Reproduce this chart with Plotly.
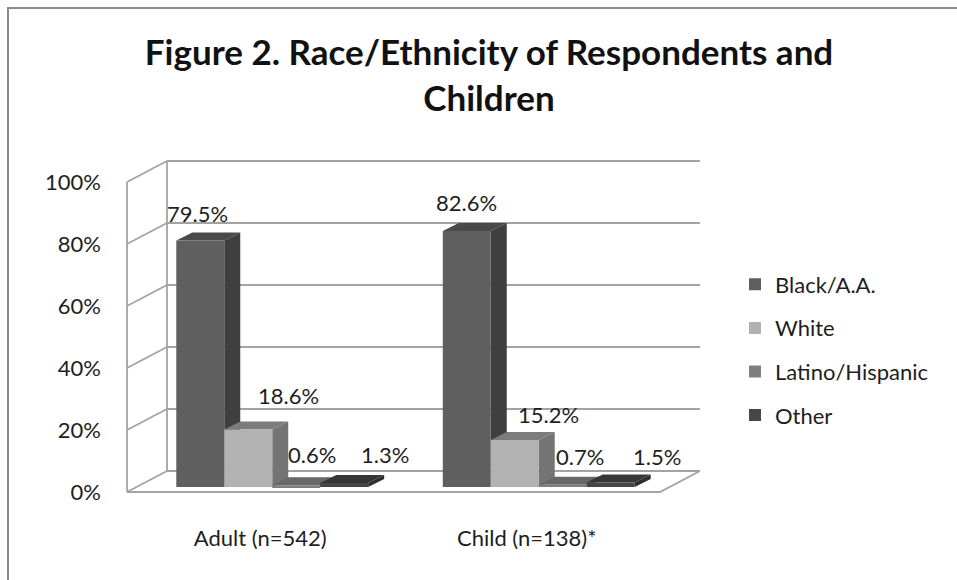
import plotly.graph_objects as go

# ---------------- data ----------------
categories = ["Adult (n=542)", "Child (n=138)*"]
series_names = ["Black/A.A.", "White", "Latino/Hispanic", "Other"]
black_vals = [79.5, 82.6]
white_vals = [18.6, 15.2]
latino_vals = [0.6, 0.7]
other_vals = [1.3, 1.5]
y_tick_vals = [0, 20, 40, 60, 80, 100]
y_tick_text = ["0%", "20%", "40%", "60%", "80%", "100%"]

series_vals = [black_vals, white_vals, latino_vals, other_vals]

# ---------------- style ----------------
front_cols = ["#5f5f5f", "#b2b2b2", "#7e7e7e", "#464646"]
side_cols = ["#3f3f3f", "#747474", "#5c5c5c", "#2e2e2e"]
top_cols = ["#4a4a4a", "#7c7c7c", "#686868", "#363636"]
FONT = "Lato"
TXT = "#1e1e1e"
GRID = "#a3a3a3"

# oblique projection parameters (data units)
DX, DY = 0.150, 6.77       # full depth of floor / walls
BX, BY = 0.045, 1.6        # bar front plane offset
W = 0.180                  # bar width
BDX, BDY = 0.060, 2.58     # bar depth
# label nudges in px (per group, per series)
lab_dx = [[-3, 40, 16, 41], [0, 34, 17, 46]]
lab_dy = [[27, 34, 31, 29], [28, 25, 28, 26]]

L, R, T, B = 120, 245, 150, 83
PW, PH = 957 - L - R, 580 - T - B
x_range = [(L - 127) / 266.5, (957 - R - 127) / 266.5]
y_range = [-(580 - B - 492) / 3.1, (492 - T) / 3.1]

fig = go.Figure()

# ---------- walls / floor / grid (base axes) ----------
ncat = len(categories)
gx, gy = [], []
ymax = y_tick_vals[-1]
for t in y_tick_vals:
    gx += [DX, ncat + DX, None]
    gy += [t + DY, t + DY, None]
    gx += [0, DX, None]
    gy += [t, t + DY, None]
gx += [0, 0, None, DX, DX, None]
gy += [0, ymax, None, DY, ymax + DY, None]
gx += [0, ncat, ncat + DX, None]
gy += [0, 0, DY, None]
fig.add_trace(go.Scatter(x=gx, y=gy, mode="lines", line=dict(color=GRID, width=1.8),
                         hoverinfo="skip", showlegend=False, xaxis="x", yaxis="y"))


def bar_x(gi, j):
    return gi + 0.5 + BX + (j - 1.5) * W


# ---------- side and top faces (base axes) ----------
for j, vals in enumerate(series_vals):
    sx, sy, tx, ty = [], [], [], []
    for gi, v in enumerate(vals):
        xl = bar_x(gi, j) - W / 2
        xr = bar_x(gi, j) + W / 2
        y0, y1 = BY, BY + v
        sx += [xr, xr + BDX, xr + BDX, xr, xr, None]
        sy += [y0, y0 + BDY, y1 + BDY, y1, y0, None]
        tx += [xl, xr, xr + BDX, xl + BDX, xl, None]
        ty += [y1, y1, y1 + BDY, y1 + BDY, y1, None]
    fig.add_trace(go.Scatter(x=sx, y=sy, fill="toself", fillcolor=side_cols[j], mode="lines",
                             line=dict(width=0, color=side_cols[j]), hoverinfo="skip",
                             showlegend=False, xaxis="x", yaxis="y"))
    fig.add_trace(go.Scatter(x=tx, y=ty, fill="toself", fillcolor=top_cols[j], mode="lines",
                             line=dict(width=0, color=top_cols[j]), hoverinfo="skip",
                             showlegend=False, xaxis="x", yaxis="y"))

# ---------- front faces (overlay axes) ----------
for j, (name, vals) in enumerate(zip(series_names, series_vals)):
    fig.add_trace(go.Bar(
        x=[bar_x(gi, j) for gi in range(ncat)], y=vals, base=BY, width=W,
        name=name, legendgroup=name,
        marker=dict(color=front_cols[j], line=dict(width=0)),
        xaxis="x2", yaxis="y2", hovertemplate="%{y:.1f}%<extra>" + name + "</extra>",
    ))

# ---------- value labels ----------
for j, vals in enumerate(series_vals):
    for gi, v in enumerate(vals):
        fig.add_annotation(x=bar_x(gi, j), y=BY + v, xref="x", yref="y",
                           text=f"{v:.1f}%", showarrow=False, yanchor="middle",
                           xshift=lab_dx[gi][j], yshift=lab_dy[gi][j],
                           font=dict(family=FONT, size=22, color=TXT))

# ---------- frame ----------
fig.add_shape(type="rect", xref="paper", yref="paper",
              x0=(8 - L) / PW, x1=(1000 - L) / PW,
              y0=(580 - B - 620) / PH, y1=(580 - B - 8) / PH,
              line=dict(color="#8a8a8a", width=2), fillcolor="rgba(0,0,0,0)", layer="below")

fig.update_layout(
    width=957, height=580,
    margin=dict(l=L, r=R, t=T, b=B),
    paper_bgcolor="white", plot_bgcolor="rgba(0,0,0,0)",
    barmode="overlay",
    title=dict(text="Figure 2. Race/Ethnicity of Respondents and<br>Children",
               x=489 / 957, xanchor="center", y=1 - 65 / 580, yanchor="top",
               font=dict(family=FONT, size=35, color="#111111", weight="bold")),
    font=dict(family=FONT, size=22, color=TXT),
    legend=dict(x=(735 - L) / PW, xanchor="left", y=(580 - B - 350) / PH, yanchor="middle",
                font=dict(family=FONT, size=22, color=TXT), tracegroupgap=12,
                bgcolor="rgba(0,0,0,0)", itemclick=False, itemdoubleclick=False),
    xaxis=dict(range=x_range, showgrid=False, zeroline=False, showline=False,
               tickmode="array", tickvals=[gi + 0.5 for gi in range(ncat)], ticktext=categories,
               ticks="", ticklabelstandoff=26, fixedrange=True,
               tickfont=dict(family=FONT, size=22, color=TXT)),
    yaxis=dict(range=y_range, showgrid=False, zeroline=False, showline=False,
               tickmode="array", tickvals=y_tick_vals, ticktext=y_tick_text,
               ticks="", ticklabelstandoff=18, fixedrange=True,
               tickfont=dict(family=FONT, size=22, color=TXT)),
    xaxis2=dict(range=x_range, overlaying="x", matches="x", visible=False, fixedrange=True),
    yaxis2=dict(range=y_range, overlaying="y", matches="y", visible=False, fixedrange=True),
    showlegend=True,
)

fig.write_html("out.html")
